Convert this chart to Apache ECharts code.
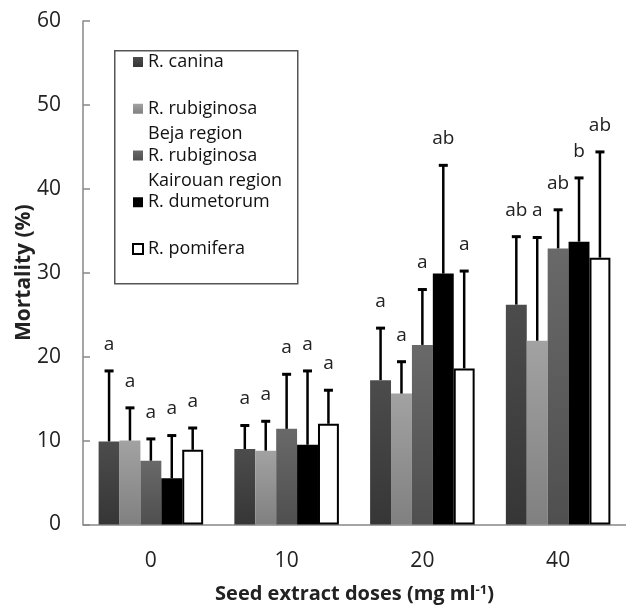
<!DOCTYPE html>
<html>
<head>
<meta charset="utf-8">
<script src="https://cdn.jsdelivr.net/npm/echarts@6/dist/echarts.min.js"></script>
<style>
  html, body { margin: 0; padding: 0; background: #fff; }
  #chart { width: 626px; height: 609px; }
</style>
</head>
<body>
<div id="chart"></div>
<script>
const doses = ['0', '10', '20', '40'];
const speciesNames = ['R. canina', 'R. rubiginosa\nBeja region', 'R. rubiginosa\nKairouan region', 'R. dumetorum', 'R. pomifera'];

// mean mortality (%) per dose
const caninaMean = [9.9, 9.0, 17.2, 26.2];
const bejaMean = [10.0, 8.8, 15.6, 21.9];
const kairouanMean = [7.6, 11.4, 21.4, 32.9];
const dumetorumMean = [5.5, 9.5, 29.9, 33.7];
const pomiferaMean = [8.9, 12.0, 18.6, 31.8];

// standard deviations (upper error bars only)
const caninaSd = [8.4, 2.8, 6.2, 8.1];
const bejaSd = [3.9, 3.5, 3.8, 12.3];
const kairouanSd = [2.6, 6.5, 6.6, 4.6];
const dumetorumSd = [5.1, 8.8, 12.9, 7.6];
const pomiferaSd = [2.6, 4.0, 11.6, 12.6];

// significance letters
const caninaLetters = ['a', 'a', 'a', 'ab'];
const bejaLetters = ['a', 'a', 'a', 'a'];
const kairouanLetters = ['a', 'a', 'a', 'ab'];
const dumetorumLetters = ['a', 'a', 'ab', 'b'];
const pomiferaLetters = ['a', 'a', 'a', 'ab'];

const yTicks = { min: 0, max: 60, interval: 10 };

const means = [caninaMean, bejaMean, kairouanMean, dumetorumMean, pomiferaMean];
const sds = [caninaSd, bejaSd, kairouanSd, dumetorumSd, pomiferaSd];
const letters = [caninaLetters, bejaLetters, kairouanLetters, dumetorumLetters, pomiferaLetters];

const FONT = 'Open Sans';
const CAT_GAP = 0.23;
const grad = (a, b) => new echarts.graphic.LinearGradient(0, 0, 0, 1, [{ offset: 0, color: a }, { offset: 1, color: b }]);
const barStyles = [
  { color: grad('#4c4c4c', '#363636') },
  { color: grad('#a2a2a2', '#808080') },
  { color: grad('#696969', '#4f4f4f') },
  { color: '#000000' },
  { color: '#ffffff', borderColor: '#000000', borderWidth: 2 }
];

const errRender = si => (params, api) => {
  const j = api.value(0);
  const base = api.coord([j, api.value(1)]);
  const top = api.coord([j, api.value(2)]);
  const catW = api.size([1, 0])[0];
  const barW = catW * (1 - CAT_GAP) / 5;
  const x = base[0] + (si - 2) * barW;
  const cap = 4.5;
  return {
    type: 'group',
    children: [
      { type: 'line', shape: { x1: x, y1: base[1], x2: x, y2: top[1] }, style: { stroke: '#000', lineWidth: 2.5 } },
      { type: 'line', shape: { x1: x - cap, y1: top[1], x2: x + cap, y2: top[1] }, style: { stroke: '#000', lineWidth: 3 } },
      {
        type: 'text', x: x, y: top[1] - 17,
        style: { text: letters[si][params.dataIndex], fontFamily: FONT, fontSize: 19, fill: '#222', align: 'center', verticalAlign: 'bottom' }
      }
    ]
  };
};

const barSeries = speciesNames.map((name, i) => ({
  name: name,
  type: 'bar',
  barGap: '0%',
  barCategoryGap: (CAT_GAP * 100) + '%',
  itemStyle: barStyles[i],
  data: means[i]
}));

const errSeries = speciesNames.map((name, i) => ({
  name: 'err' + i,
  type: 'custom',
  renderItem: errRender(i),
  encode: { x: 0, y: 2 },
  data: doses.map((d, j) => [j, means[i][j], means[i][j] + sds[i][j]]),
  z: 3
}));

const chart = echarts.init(document.getElementById('chart'), null, { renderer: 'canvas' });
chart.setOption({
  backgroundColor: '#ffffff',
  animation: false,
  textStyle: { fontFamily: FONT },
  grid: { left: 83, right: -12, top: 21, bottom: 82 },
  legend: {
    orient: 'vertical',
    left: 132, top: 24.5,
    padding: 0,
    itemGap: -28.25,
    itemWidth: 10, itemHeight: 10,
    icon: 'rect',
    selectedMode: false,
    data: speciesNames,
    // three text lines centred on the icon: blank, name, second line
    formatter: n => ' \n' + (n.indexOf('\n') < 0 ? n + '\n ' : n),
    textStyle: { fontFamily: FONT, fontSize: 18, color: '#111', lineHeight: 25 }
  },
  graphic: [{
    type: 'rect', left: 114, top: 50, z: 0,
    shape: { width: 183, height: 233 },
    style: { fill: 'transparent', stroke: '#555', lineWidth: 1.5 }
  }],
  xAxis: {
    type: 'category',
    data: doses,
    name: 'Seed extract doses (mg ml{sup|-1})',
    nameLocation: 'middle',
    nameGap: 59,
    nameMoveOverlap: false,
    nameTextStyle: {
      fontFamily: FONT, fontSize: 20, fontWeight: 'bold', color: '#222',
      rich: { sup: { fontFamily: FONT, fontSize: 13, fontWeight: 'bold', color: '#222', verticalAlign: 'top', padding: [0, 0, 8, 0] } }
    },
    axisLine: { lineStyle: { color: '#888', width: 1.5 } },
    axisTick: { show: false },
    axisLabel: { fontFamily: FONT, fontSize: 21, color: '#222', margin: 26 }
  },
  yAxis: {
    type: 'value',
    min: yTicks.min, max: yTicks.max, interval: yTicks.interval,
    name: 'Mortality (%)',
    nameLocation: 'middle',
    nameGap: 48,
    nameMoveOverlap: false,
    nameTextStyle: { fontFamily: FONT, fontSize: 21, fontWeight: 'bold', color: '#222' },
    axisLine: { show: true, lineStyle: { color: '#888', width: 1.5 } },
    axisTick: { show: true, inside: true, length: 7, lineStyle: { color: '#888', width: 1.5 } },
    splitLine: { show: false },
    axisLabel: { fontFamily: FONT, fontSize: 21, color: '#222', margin: 22 }
  },
  series: barSeries.concat(errSeries)
});
</script>
</body>
</html>
